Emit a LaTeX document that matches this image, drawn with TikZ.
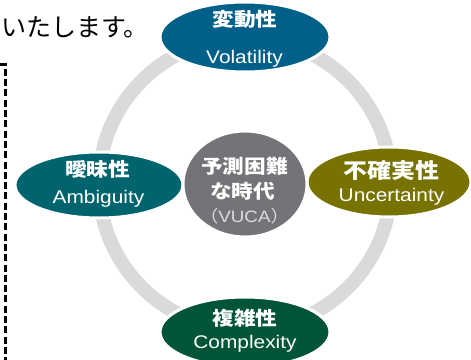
\documentclass[tikz,border=0pt]{standalone}
\usepackage{fontspec}
\setmainfont{Liberation Sans}[FakeStretch=1.14]
\newfontfamily\jpfont{Noto Sans CJK JP}[FakeStretch=1.14]
\newfontfamily\jpplain{Noto Sans CJK JP}
\usetikzlibrary{shapes.geometric}

\definecolor{volblue}{HTML}{006089}
\definecolor{ambteal}{HTML}{00646E}
\definecolor{uncolive}{HTML}{787300}
\definecolor{cmpgreen}{HTML}{005536}
\definecolor{vucagray}{HTML}{737378}
\definecolor{ringgray}{HTML}{D9DAD9}
\definecolor{vucatext}{HTML}{DCDCDE}

\tikzset{
  ringline/.style={draw=ringgray,line width=14pt},
  factor/.style={ellipse,draw=white,line width=3pt,inner sep=0pt},
  jptext/.style={anchor=base,inner sep=0pt,text=white,font=\jpfont\bfseries\fontsize{19}{19}\selectfont},
  entext/.style={anchor=base,inner sep=0pt,text=white,font=\fontsize{18.3}{18.3}\selectfont},
  borderline/.style={draw=black,line width=3pt,dash pattern=on 7pt off 3.3pt}
}

\begin{document}
\begin{tikzpicture}[x=1pt,y=-1pt]
        \useasboundingbox (0,0) rectangle (471,359);

        \coordinate (O)  at (245,184);
        \coordinate (V)  at (245,37);
        \coordinate (A)  at (99,185);
        \coordinate (U)  at (389,182);
        \coordinate (C)  at (245,332);
        \coordinate (TL) at (0,64);
        \coordinate (TR) at (5.5,64);
        \coordinate (BR) at (5.5,362);

        \draw[borderline] (TL) -- (TR) -- (BR);
        \draw[ringline] (O) circle (146pt);

        \node[factor,fill=volblue,minimum width=170pt,minimum height=70pt]   (vol)  at (V) {};
        \node[factor,fill=ambteal,minimum width=168pt,minimum height=66pt]   (amb)  at (A) {};
        \node[factor,fill=uncolive,minimum width=164pt,minimum height=70pt]  (unc)  at (U) {};
        \node[factor,fill=cmpgreen,minimum width=170pt,minimum height=70pt]  (cmp)  at (C) {};
        \node[factor,fill=vucagray,minimum width=124pt,minimum height=106pt] (vuca) at (O) {};

        \node[jptext] (voljp) at (245,26.7)  {変動性};
        \node[entext] (volen) at (244.5,63)  {Volatility};
        \node[jptext] (ambjp) at (97.5,176.7) {曖昧性};
        \node[entext] (amben) at (98.5,203)  {Ambiguity};
        \node[jptext,font=\jpfont\bfseries\fontsize{21}{21}\selectfont] (uncjp) at (391.5,178.5) {不確実性};
        \node[entext] (uncen) at (391.5,201.7) {Uncertainty};
        \node[jptext] (cmpjp) at (245,325.7) {複雑性};
        \node[entext] (cmpen) at (245,348)   {Complexity};

        \node[jptext] (vucajp1) at (244.5,173.7) {予測困難};
        \node[jptext] (vucajp2) at (242.5,198.7) {な時代};
        \node[entext,text=vucatext,font=\fontsize{16.5}{16.5}\selectfont] (vucaen) at (244.5,222.5) {{\jpfont （}VUCA{\jpfont ）}};

        \node[anchor=base west,inner sep=0pt,font=\jpplain\fontsize{25}{25}\selectfont] (lead) at (1,36) {いたします。};
    \end{tikzpicture}
\end{document}
